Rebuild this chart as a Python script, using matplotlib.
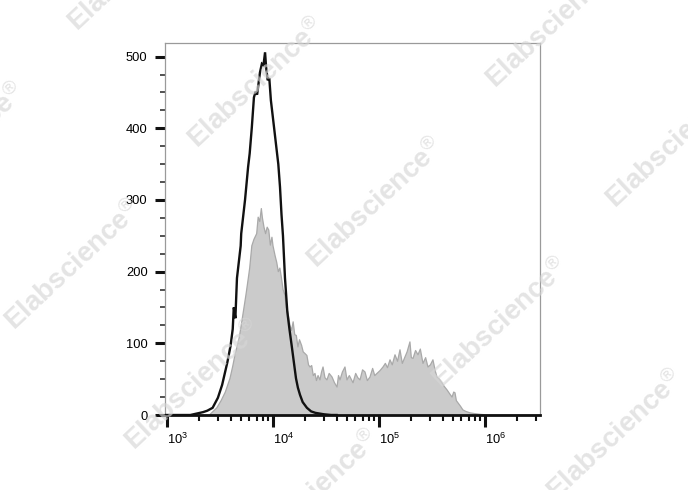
import numpy as np
import matplotlib
matplotlib.use("Agg")
import matplotlib.pyplot as plt
from matplotlib.ticker import LogLocator, MultipleLocator, NullFormatter

plt.rcParams['font.family'] = ['Liberation Sans', 'DejaVu Sans']
plt.rcParams['mathtext.fontset'] = 'custom'
plt.rcParams['mathtext.rm'] = 'Liberation Sans'
plt.rcParams['mathtext.it'] = 'Liberation Sans:italic'
plt.rcParams['mathtext.bf'] = 'Liberation Sans:bold'

# ---------------- data (log10 of fluorescence, event counts) ----------------
black_log = [2.98, 3.22, 3.28, 3.34, 3.38, 3.43, 3.48, 3.52, 3.57, 3.60, 3.62, 3.63,
             3.645, 3.66, 3.695, 3.70, 3.736, 3.765, 3.78, 3.80, 3.82, 3.835, 3.85,
             3.877, 3.895, 3.91, 3.925, 3.935, 3.95, 3.965, 3.98, 4.01, 4.035, 4.05,
             4.066, 4.08, 4.094, 4.113, 4.135, 4.155, 4.176, 4.20, 4.217, 4.235,
             4.255, 4.28, 4.32, 4.36, 4.40, 4.44, 4.48, 4.55, 4.60]
black_counts = [0, 0, 2, 4, 6, 10, 24, 42, 74, 97, 120, 150,
                135, 191, 236, 253, 300, 346, 365, 401, 443, 451, 447,
                478, 490, 488, 506, 485, 467, 470, 439, 401, 369, 350,
                318, 280, 250, 191, 144, 120, 97, 70, 51, 38,
                28, 18, 10, 5, 3, 2, 1, 0, 0]

gray_log = [3.00, 3.40, 3.47, 3.51, 3.55, 3.594, 3.62, 3.64, 3.68, 3.70, 3.72, 3.745,
            3.767, 3.78, 3.80, 3.82, 3.846, 3.86, 3.875, 3.89, 3.90, 3.915, 3.93,
            3.945, 3.96, 3.975, 3.99, 4.00, 4.02, 4.035, 4.05, 4.065, 4.08, 4.095,
            4.113, 4.125, 4.14, 4.16, 4.175, 4.19, 4.205, 4.22, 4.235, 4.25, 4.27,
            4.285, 4.30, 4.32, 4.335, 4.349, 4.365, 4.38, 4.396, 4.41, 4.425, 4.443,
            4.458, 4.472, 4.49, 4.509, 4.53, 4.557, 4.58, 4.604, 4.618, 4.632, 4.655,
            4.679, 4.698, 4.72, 4.755, 4.78, 4.80, 4.821, 4.845, 4.868, 4.89, 4.915,
            4.94, 4.96, 4.981, 5.01, 5.038, 5.06, 5.08, 5.104, 5.125, 5.151, 5.175,
            5.198, 5.22, 5.245, 5.265, 5.292, 5.305, 5.321, 5.345, 5.368, 5.39, 5.415,
            5.44, 5.462, 5.485, 5.509, 5.53, 5.547, 5.57, 5.594, 5.615, 5.642, 5.665,
            5.689, 5.705, 5.717, 5.73, 5.745, 5.77, 5.792, 5.82, 5.858, 5.90, 5.953,
            6.02, 6.60]
gray_counts = [0, 0, 10, 20, 32, 51, 68, 83, 107, 125, 144, 168,
               191, 205, 236, 245, 253, 276, 270, 288, 275, 262, 253,
               262, 258, 237, 248, 236, 222, 213, 200, 205, 191, 175,
               167, 150, 144, 125, 118, 130, 112, 111, 95, 105, 97,
               88, 86, 83, 70, 67, 69, 55, 58, 48, 55, 49,
               60, 67, 52, 49, 58, 53, 45, 39, 55, 49, 60,
               67, 49, 55, 45, 58, 52, 49, 63, 60, 48, 53,
               65, 55, 58, 62, 67, 72, 66, 77, 70, 84, 75,
               91, 72, 81, 88, 102, 80, 79, 90, 84, 92, 72,
               80, 67, 70, 77, 62, 53, 50, 45, 40, 35, 30,
               25, 32, 31, 20, 17, 12, 7, 5, 3, 2, 1,
               0, 0]

y_ticks = [0, 100, 200, 300, 400, 500]
x_tick_exps = [3, 4, 5, 6]
watermark = "Elabscience$^{\\circledR}$"

# ---------------- figure ----------------
fig = plt.figure(figsize=(6.88, 4.90), dpi=100)
ax = fig.add_axes([165 / 688, 75 / 490, 375 / 688, 372 / 490])

gx = 10 ** np.array(gray_log)
bx = 10 ** np.array(black_log)
ax.fill_between(gx, gray_counts, 0, facecolor='#cbcbcb', edgecolor='none', zorder=1)
ax.plot(gx, gray_counts, color='#a9a9a9', lw=0.9, zorder=2)
ax.plot(bx, black_counts, color='#111111', lw=1.7, zorder=3, solid_joinstyle='miter')

ax.set_xscale('log')
ax.set_xlim(10 ** 2.981, 10 ** 6.519)
ax.set_ylim(0, 519)

ax.set_xticks([10.0 ** e for e in x_tick_exps])
ax.set_xticklabels([r'$10^{%d}$' % e for e in x_tick_exps], ha='left')
ax.xaxis.set_minor_locator(LogLocator(base=10, subs=np.arange(2, 10)))
ax.xaxis.set_minor_formatter(NullFormatter())

ax.set_yticks(y_ticks)
ax.set_yticklabels([str(v) for v in y_ticks])
ax.yaxis.set_minor_locator(MultipleLocator(25))

ax.tick_params(axis='y', which='major', length=7, width=2.2, pad=5.5,
               labelsize=9.3, direction='out', color='#111111')
ax.tick_params(axis='y', which='minor', length=3.6, width=1.1,
               direction='out', color='#222222')
ax.tick_params(axis='x', which='major', length=8.5, width=2.2, pad=3.5,
               labelsize=9.3, direction='out', color='#111111')
ax.tick_params(axis='x', which='minor', length=4.5, width=1.5,
               direction='out', color='#111111')

for s in ['left', 'top', 'right']:
    ax.spines[s].set_color('#9a9a9a')
    ax.spines[s].set_linewidth(0.9)
ax.spines['bottom'].set_color('#111111')
ax.spines['bottom'].set_linewidth(2.0)

# ---------------- watermarks ----------------
wm_starts = [(78, 33), (-101, 215), (198, 150), (15, 332), (135, 452),
             (317, 270), (496, 90), (616, 210), (442, 390), (557, 502),
             (253, 562)]
for (px, py) in wm_starts:
    fig.text(px / 688, 1 - py / 490, watermark, fontsize=20, fontweight='bold',
             color='#d6d6d6', alpha=0.65, rotation=43, rotation_mode='anchor',
             ha='left', va='baseline', zorder=10)

fig.savefig('out.png', dpi=100)
